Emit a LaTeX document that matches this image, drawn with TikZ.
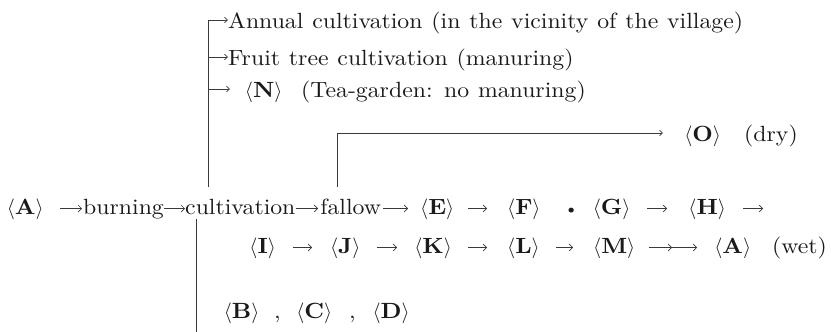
\documentclass[tikz,border=0pt]{standalone}
\usepackage{fontspec}
\setmainfont{lmroman10-regular.otf}[BoldFont=lmroman10-bold.otf, FakeStretch=1.08, WordSpace=1.12]
\usetikzlibrary{arrows.meta}
\definecolor{ink}{HTML}{1A1A1A}
\definecolor{lnk}{HTML}{3A3A3A}
\newcommand{\abr}[1]{$\langle$\textbf{#1}$\rangle$}
\begin{document}
\begin{tikzpicture}[x=1pt,y=-1pt,
  every node/.style={inner sep=0pt, anchor=base west, text=ink, font=\fontsize{22}{26}\selectfont},
  mid/.style={text height=16pt, text depth=5pt},
  top/.style={text height=16pt, text depth=0pt},
  arr/.style={draw=lnk, line width=0.7pt, -{Straight Barb[length=3.5pt,width=7pt]}},
  brarr/.style={draw=lnk, line width=0.7pt, -{Straight Barb[length=3pt,width=5.5pt]}},
  ln/.style={draw=lnk, line width=0.7pt}]
\useasboundingbox (0,0) rectangle (831,332);

% top branch texts
\node[top] (L1) at (228,28) {Annual cultivation (in the vicinity of the village)};
\node[top] (L2) at (228,65) {Fruit tree cultivation (manuring)};
\node[top, minimum width=47pt] (N) at (240,97) {\abr{N}};
\node[top] (tea) at (301,97) {(Tea-garden: no manuring)};

% dry branch
\node[top, minimum width=41pt] (O) at (682,141) {\abr{O}};
\node[top] (dry) at (744,141) {(dry)};

% main line
\node[mid, minimum width=40pt] (A1) at (5,214) {\abr{A}};
\node[mid, minimum width=77pt] (burn) at (83,214) {burning};
\node[mid, minimum width=108pt] (cult) at (185,214) {cultivation};
\node[mid, minimum width=65pt] (fall) at (318,214) {fallow};
\node[mid, minimum width=33pt] (E) at (420,214) {\abr{E}};
\node[mid, minimum width=30pt] (F) at (507,214) {\abr{F}};
\node[mid, font=\fontsize{17}{20}\selectfont] (dot) at (564,214) {\textbullet};
\node[mid, minimum width=43pt] (G) at (590,214) {\abr{G}};
\node[mid, minimum width=40pt] (H) at (687,214) {\abr{H}};
\coordinate (Hend) at (763,208.5);

% second line
\node[mid, minimum width=29pt] (I) at (248,253) {\abr{I}};
\node[mid, minimum width=34pt] (J) at (328,253) {\abr{J}};
\node[mid, minimum width=40pt] (K) at (413,253) {\abr{K}};
\node[mid, minimum width=30pt] (L) at (507,253) {\abr{L}};
\node[mid, minimum width=40pt] (M) at (593,253) {\abr{M}};
\coordinate (mm) at (672,247.5);
\node[mid, minimum width=39pt] (A2) at (713,253) {\abr{A}};
\node[mid] (wet) at (772,253) {(wet)};

% bottom line
\node[mid, minimum width=37pt] (B) at (223,318) {\abr{B}};
\node[mid] (c1) at (274,318) {,};
\node[mid, minimum width=38pt] (C) at (295,318) {\abr{C}};
\node[mid] (c2) at (349,318) {,};
\node[mid, minimum width=40pt] (D) at (371,318) {\abr{D}};

% branch connectors
\coordinate (t0) at (208,187);
\draw[brarr] (t0) |- (L1);
\draw[brarr] (t0) |- (L2);
\draw[brarr, shorten >=10pt] (t0) |- (N);
\coordinate (f0) at (337,187);
\draw[brarr, shorten >=19pt] (f0) |- (O);
\coordinate (b0) at (196,219);
\coordinate (b1) at (196,332);
\draw[ln] (b0) -- (b1);

% main line arrows
\draw[arr, shorten <=15pt, shorten >=1pt] (A1) -- (burn);
\draw[arr] (burn) -- (cult);
\draw[arr] (cult) -- (fall);
\draw[arr, shorten >=12pt] (fall) -- (E);
\draw[arr, shorten <=14pt, shorten >=20pt] (E) -- (F);
\draw[arr, shorten <=14pt, shorten >=20pt] (G) -- (H);
\draw[arr, shorten <=16pt] (H) -- (Hend);

% second line arrows
\draw[arr, shorten <=16pt, shorten >=16pt] (I) -- (J);
\draw[arr, shorten <=15pt, shorten >=16pt] (J) -- (K);
\draw[arr, shorten <=15pt, shorten >=20pt] (K) -- (L);
\draw[arr, shorten <=16pt, shorten >=20pt] (L) -- (M);
\draw[arr, shorten <=14pt] (M) -- (mm);
\draw[arr, shorten >=16pt] (mm) -- (A2);
\end{tikzpicture}
\end{document}
